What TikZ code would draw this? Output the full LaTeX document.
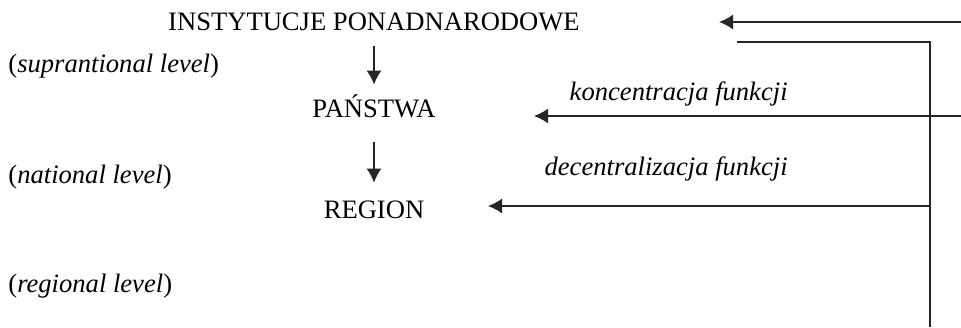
\documentclass[tikz,border=0pt]{standalone}
\usepackage{fontspec}
\setmainfont{Liberation Serif}
\usetikzlibrary{arrows.meta, positioning}
\tikzset{
  arr/.style={-{Latex[length=7pt,width=7.5pt]}, line width=0.75pt, draw=black!85},
  ln/.style={line width=0.75pt, draw=black!85},
  lvl/.style={inner sep=0pt, text height=9pt, text depth=0pt, font=\fontsize{13.3}{16}\selectfont},
  lbl/.style={inner sep=0pt, font=\fontsize{13.3}{16}\selectfont\itshape}
}
\begin{document}
\begin{tikzpicture}[x=0.5pt, y=-0.5pt]
\useasboundingbox (0,0) rectangle (961,327);
% levels
\node[lvl, anchor=base] (inst) at (374,30) {INSTYTUCJE PONADNARODOWE};
\node[lvl, anchor=base] (pan) at (374,117) {PAŃSTWA};
\node[lvl, anchor=base] (reg) at (374,218) {REGION};
\node[lbl, anchor=base west] (supra) at (8,72) {\upshape(\textit{suprantional level})};
\node[lbl, anchor=base west] (nat) at (8,183) {\upshape(\textit{national level})};
\node[lbl, anchor=base west] (regl) at (8,292) {\upshape(\textit{regional level})};
\node[lbl, anchor=base east] (konc) at (788,100) {koncentracja funkcji};
\node[lbl, anchor=base east] (dec) at (788,175) {decentralizacja funkcji};
\draw [arr, shorten <=8pt, shorten >=7pt] (inst.south) -- (pan.north);
\draw [arr, shorten <=12.5pt, shorten >=8.5pt] (pan.south) -- (reg.north);
% feedback lines on the right
\coordinate (r1) at (961,22);
\coordinate (t1) at (719,22);
\coordinate (s2) at (737,42);
\coordinate (c2) at (930,42);
\coordinate (b2) at (930,327);
\coordinate (r3) at (961,116);
\coordinate (t3) at (534,116);
\coordinate (c4) at (930,206);
\coordinate (t4) at (488,206);
\draw [arr] (r1) -- (t1);
\draw [ln] (s2) -- (c2) -- (b2);
\draw [arr] (r3) -- (t3);
\draw [arr] (c4) -- (t4);
\end{tikzpicture}
\end{document}
